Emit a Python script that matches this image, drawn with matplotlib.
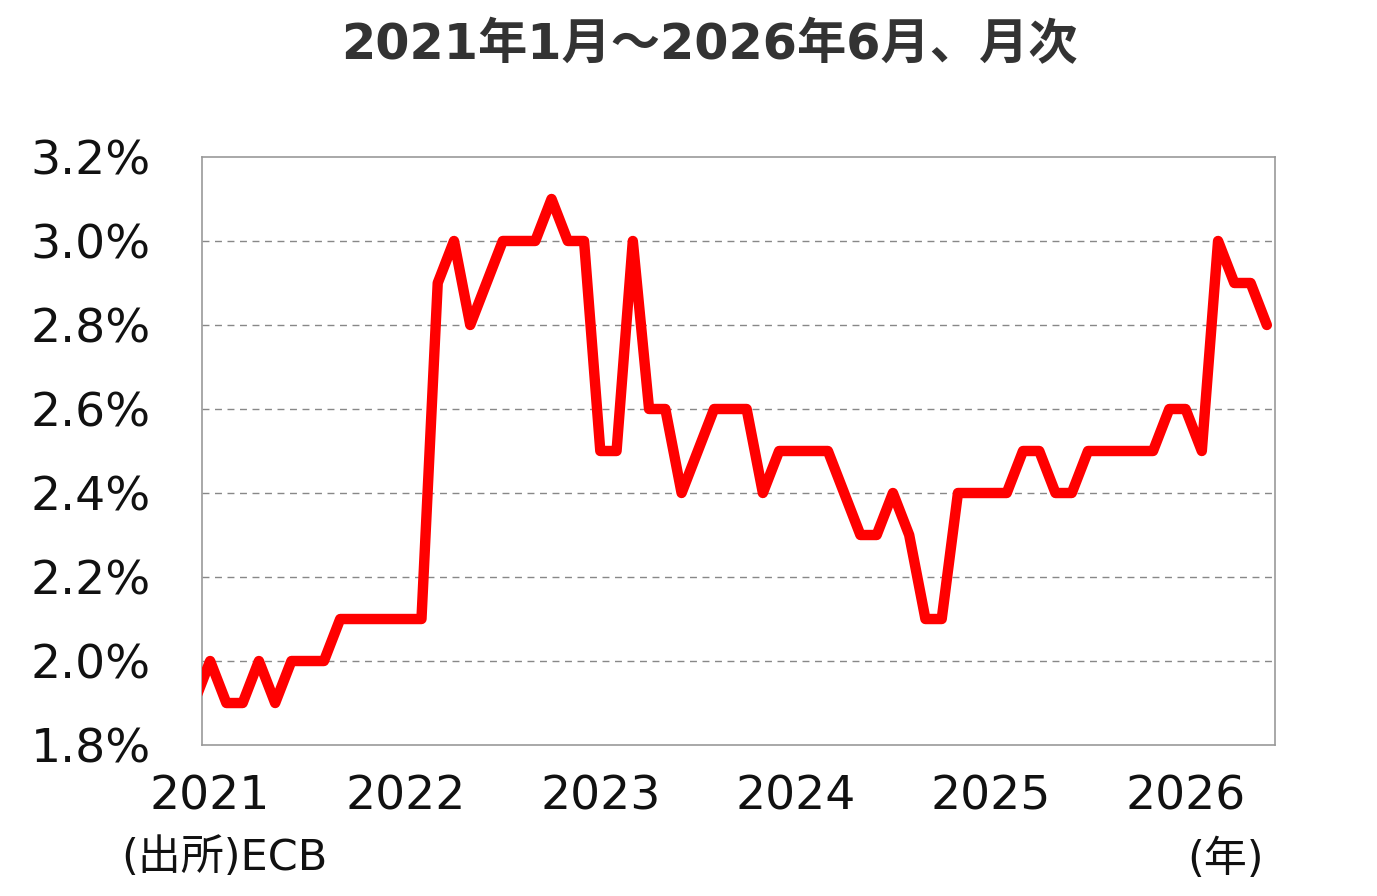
import matplotlib
matplotlib.use("Agg")
import matplotlib.pyplot as plt
from matplotlib.ticker import FuncFormatter

plt.rcParams['font.family'] = ['DejaVu Sans', 'Noto Sans CJK JP']

# month index: 0 = 2021年1月, -1 = 2020年12月 (clipped at the left edge)
months = list(range(-1, 66))
rates = [1.9,
         2.0, 1.9, 1.9, 2.0, 1.9, 2.0, 2.0, 2.0, 2.1, 2.1, 2.1, 2.1,
         2.1, 2.1, 2.9, 3.0, 2.8, 2.9, 3.0, 3.0, 3.0, 3.1, 3.0, 3.0,
         2.5, 2.5, 3.0, 2.6, 2.6, 2.4, 2.5, 2.6, 2.6, 2.6, 2.4, 2.5,
         2.5, 2.5, 2.5, 2.4, 2.3, 2.3, 2.4, 2.3, 2.1, 2.1, 2.4, 2.4,
         2.4, 2.4, 2.5, 2.5, 2.4, 2.4, 2.5, 2.5, 2.5, 2.5, 2.5, 2.6,
         2.6, 2.5, 3.0, 2.9, 2.9, 2.8]
year_ticks = [0, 12, 24, 36, 48, 60]
year_labels = ['2021', '2022', '2023', '2024', '2025', '2026']
y_ticks = [1.8, 2.0, 2.2, 2.4, 2.6, 2.8, 3.0, 3.2]

fig = plt.figure(figsize=(13.77, 8.96), dpi=100)
ax = fig.add_axes([0.1467, 0.1685, 0.7792, 0.6563])

ax.plot(months, rates, color='#ff0000', lw=7.5, solid_joinstyle='round',
        solid_capstyle='round', zorder=3)

ax.set_xlim(-0.5, 65.5)
ax.set_ylim(1.8, 3.2)
ax.set_yticks(y_ticks)
ax.yaxis.set_major_formatter(FuncFormatter(lambda v, p: f'{v:.1f}%'))
ax.set_xticks(year_ticks)
ax.set_xticklabels(year_labels)
ax.tick_params(axis='both', length=0, labelsize=34, colors='#111111')
ax.tick_params(axis='y', pad=37)
ax.tick_params(axis='x', pad=21)

for v in y_ticks[1:-1]:
    ax.axhline(v, color='#888888', lw=1, ls=(0, (5, 4)), zorder=1)

for s in ax.spines.values():
    s.set_color('#999999')
    s.set_linewidth(1.2)

fig.text(0.515, 0.95, '2021年1月～2026年6月、月次', ha='center', va='center',
         fontsize=35.5, fontweight='bold', color='#333333',
         family=['DejaVu Sans', 'Noto Sans CJK JP'])
fig.text(0.088, 0.042, '(出所)ECB', ha='left', va='center', fontsize=31,
         color='#111111')
fig.text(0.890, 0.040, '(年)', ha='center', va='center', fontsize=31,
         color='#111111')

fig.savefig('out.png', dpi=100)
